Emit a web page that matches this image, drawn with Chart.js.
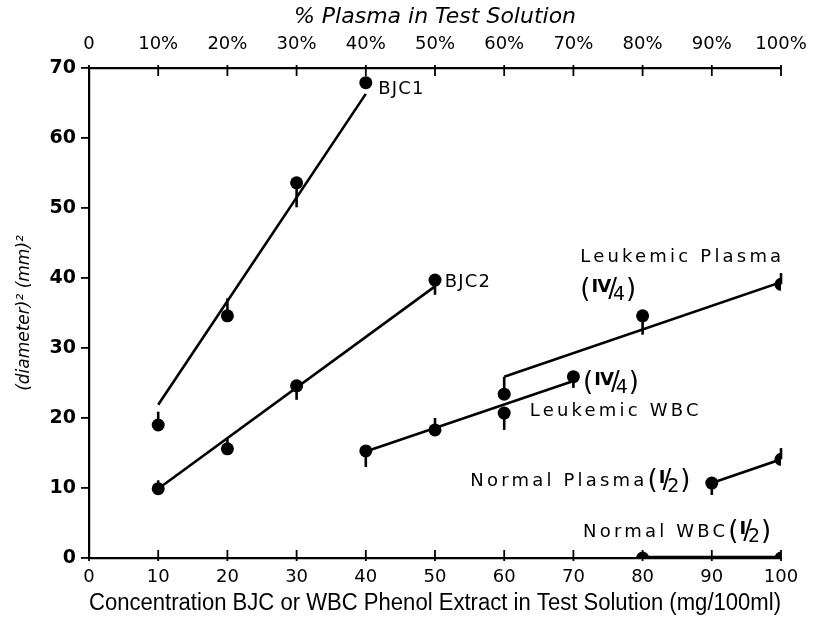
<!DOCTYPE html>
<html><head><meta charset="utf-8">
<script src="https://cdn.jsdelivr.net/npm/chart.js@4.4.1/dist/chart.umd.min.js"></script>
<style>html,body{margin:0;padding:0;background:#fff}</style>
</head><body>
<canvas id="c" width="822" height="618"></canvas>
<script>
// ---- tick labels ----
const bottomTickLabels = ['0','10','20','30','40','50','60','70','80','90','100'];
const topTickLabels = ['0','10%','20%','30%','40%','50%','60%','70%','80%','90%','100%'];
const yTickLabels = ['0','10','20','30','40','50','60','70'];

// ---- series (x = concentration / % plasma, y = diameter^2, err = end of error bar) ----
const bjc1X = [10, 20, 30, 40];
const bjc1Y = [19.0, 34.6, 53.6, 67.9];
const bjc1Err = [20.9, 37.1, 50.1, null];
const bjc1FitX = [10, 40];
const bjc1FitY = [21.9, 66.3];

const bjc2X = [10, 20, 30, 50];
const bjc2Y = [9.9, 15.6, 24.6, 39.7];
const bjc2Err = [11.1, 17.0, 22.6, 37.6];
const bjc2FitX = [10, 50];
const bjc2FitY = [9.9, 38.8];

const lwbcX = [40, 50, 60, 70];
const lwbcY = [15.3, 18.3, 20.7, 25.9];
const lwbcErr = [13.0, 20.0, 18.3, 24.3];
const lwbcFitX = [40, 70];
const lwbcFitY = [15.2, 25.3];

const lplasmaX = [60, 80, 100];
const lplasmaY = [23.4, 34.6, 39.1];
const lplasmaErr = [25.9, 31.9, 40.7];
const lplasmaFitX = [60, 100];
const lplasmaFitY = [25.9, 39.4];

const nplasmaX = [90, 100];
const nplasmaY = [10.7, 14.1];
const nplasmaErr = [9.0, 15.7];

const nwbcX = [80, 100];
const nwbcY = [0, 0];

// ---- annotation labels (layout) ----
const annotations = [
  {text:'BJC1', x:41.8, y:67.0, sp:1.2},
  {text:'BJC2', x:51.4, y:39.4, sp:1.2},
  {text:'Leukemic Plasma', x:71.0, y:42.9, sp:3.2},
  {text:'', frac:['Ⅳ','4'], x:71.0, y:38.3},
  {text:'', frac:['Ⅳ','4'], x:71.4, y:25.0},
  {text:'Leukemic WBC', x:63.7, y:20.9, sp:3.2},
  {text:'Normal Plasma', frac:['I','2'], x:55.1, y:10.9, sp:3.2},
  {text:'Normal WBC', frac:['I','2'], x:71.4, y:3.7, sp:3.2}
];

const pts = (xs, ys) => xs.map((x, i) => ({x, y: ys[i]}));
const FONT = '"DejaVu Sans", sans-serif';

function pointSet(xs, ys, err) {
  return {data: pts(xs, ys), errTo: err, showLine: false, pointRadius: 6.5,
    pointBackgroundColor: '#000', pointBorderColor: '#000', pointBorderWidth: 0};
}
function lineSet(xs, ys, w) {
  return {data: pts(xs, ys), showLine: true, pointRadius: 0, borderColor: '#000',
    borderWidth: w || 2.6, fill: false};
}

const errorBars = {
  id: 'errorBars',
  afterDatasetsDraw(chart) {
    const ctx = chart.ctx, ys = chart.scales.y;
    ctx.save();
    ctx.strokeStyle = '#000'; ctx.lineWidth = 2.6; ctx.lineCap = 'butt';
    chart.data.datasets.forEach((ds, di) => {
      if (!ds.errTo) return;
      const meta = chart.getDatasetMeta(di);
      meta.data.forEach((el, i) => {
        const e = ds.errTo[i];
        if (e == null) return;
        ctx.beginPath();
        ctx.moveTo(el.x, el.y);
        ctx.lineTo(el.x, ys.getPixelForValue(e));
        ctx.stroke();
      });
    });
    ctx.restore();
  }
};

const inwardTicks = {
  id: 'inwardTicks',
  afterDraw(chart) {
    const ctx = chart.ctx;
    ctx.save();
    ctx.strokeStyle = '#000'; ctx.lineWidth = 1.8;
    const bx = chart.scales.x, tx = chart.scales.x2;
    bx.ticks.forEach(t => {
      const px = bx.getPixelForValue(t.value);
      ctx.beginPath(); ctx.moveTo(px, bx.top + 3); ctx.lineTo(px, bx.top - 8); ctx.stroke();
    });
    tx.ticks.forEach(t => {
      const px = tx.getPixelForValue(t.value);
      ctx.beginPath(); ctx.moveTo(px, tx.bottom - 3); ctx.lineTo(px, tx.bottom + 8); ctx.stroke();
    });
    ctx.restore();
  }
};

const labelsPlugin = {
  id: 'labelsPlugin',
  afterDraw(chart) {
    const ctx = chart.ctx, xs = chart.scales.x, ys = chart.scales.y;
    ctx.save();
    ctx.fillStyle = '#000';
    ctx.textBaseline = 'middle';
    ctx.textAlign = 'left';
    annotations.forEach(a => {
      let px = xs.getPixelForValue(a.x);
      const py = ys.getPixelForValue(a.y);
      ctx.font = '18px ' + FONT;
      ctx.letterSpacing = (a.sp || 0) + 'px';
      if (a.text) {
        ctx.fillText(a.text, px, py);
        px += ctx.measureText(a.text).width;
      }
      if (a.frac) {
        ctx.letterSpacing = '0px';
        ctx.font = '26px ' + FONT;
        ctx.fillText('(', px, py); px += ctx.measureText('(').width + 1;
        ctx.font = 'bold 18px ' + FONT;
        ctx.fillText(a.frac[0], px, py - 3); px += ctx.measureText(a.frac[0]).width - 3;
        ctx.font = '26px ' + FONT;
        ctx.fillText('/', px, py); px += ctx.measureText('/').width - 4;
        ctx.font = '19px ' + FONT;
        ctx.fillText(a.frac[1], px, py + 5); px += ctx.measureText(a.frac[1]).width + 1;
        ctx.font = '26px ' + FONT;
        ctx.fillText(')', px, py);
      }
    });
    ctx.restore();
  }
};

const datasets = [
  lineSet(bjc1FitX, bjc1FitY),
  pointSet(bjc1X, bjc1Y, bjc1Err),
  lineSet(bjc2FitX, bjc2FitY),
  pointSet(bjc2X, bjc2Y, bjc2Err),
  lineSet(lwbcFitX, lwbcFitY),
  pointSet(lwbcX, lwbcY, lwbcErr),
  lineSet(lplasmaFitX, lplasmaFitY),
  pointSet(lplasmaX, lplasmaY, lplasmaErr),
  lineSet(nplasmaX, nplasmaY),
  pointSet(nplasmaX, nplasmaY, nplasmaErr),
  lineSet(nwbcX, nwbcY, 4.5),
  pointSet(nwbcX, nwbcY, null)
];

new Chart(document.getElementById('c'), {
  type: 'scatter',
  data: {datasets},
  options: {
    responsive: false,
    animation: false,
    layout: {padding: {right: 41, left: 0, top: 0, bottom: 0}},
    plugins: {legend: {display: false}, tooltip: {enabled: false}},
    scales: {
      x: {
        type: 'linear', position: 'bottom', min: 0, max: 100,
        afterFit: s => { s.height = 60; },
        border: {display: true, color: '#000', width: 2.2},
        grid: {display: true, drawOnChartArea: false, drawTicks: false, color: 'rgba(0,0,0,0)'},
        ticks: {stepSize: 10, color: '#000', padding: 9, maxRotation: 0,
          font: {family: FONT, size: 18},
          callback: (v, i) => bottomTickLabels[i]},
        title: {display: true, text: 'Concentration BJC or WBC Phenol Extract in Test Solution (mg/100ml)',
          color: '#000', font: {family: '"Liberation Sans", sans-serif', size: 23}, padding: {top: 0, bottom: 1}}
      },
      x2: {
        type: 'linear', position: 'top', min: 0, max: 100,
        afterFit: s => { s.height = 68; },
        border: {display: true, color: '#000', width: 2.2},
        grid: {display: true, drawOnChartArea: false, drawTicks: false, color: 'rgba(0,0,0,0)'},
        ticks: {stepSize: 10, color: '#000', padding: 13, maxRotation: 0,
          font: {family: FONT, size: 18},
          callback: (v, i) => topTickLabels[i]},
        title: {display: true, text: '% Plasma in Test Solution', color: '#000',
          font: {family: FONT, size: 22, style: 'italic'}, padding: {top: 4, bottom: 0}}
      },
      y: {
        type: 'linear', position: 'left', min: 0, max: 70,
        afterFit: s => { s.width = 89; },
        border: {display: true, color: '#000', width: 2.2},
        grid: {display: true, drawOnChartArea: false, drawTicks: true, tickLength: 8, color: '#000', lineWidth: 1.8},
        ticks: {stepSize: 10, color: '#000', padding: 5,
          font: {family: FONT, size: 19, weight: 'bold'},
          callback: (v, i) => yTickLabels[i]},
        title: {display: true, text: '(diameter)² (mm)²', color: '#000',
          font: {family: FONT, size: 17, style: 'italic'}, padding: {top: 14, bottom: 0}}
      }
    }
  },
  plugins: [errorBars, inwardTicks, labelsPlugin]
});
</script>
</body></html>
